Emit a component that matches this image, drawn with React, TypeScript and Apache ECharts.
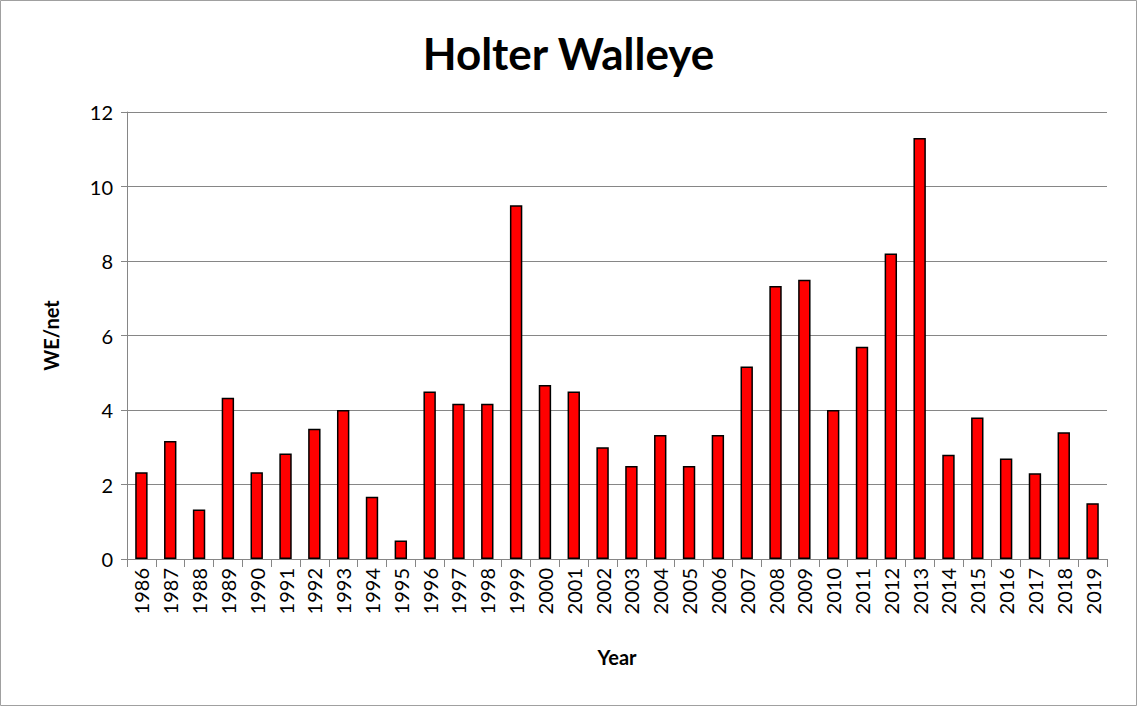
import React, { useEffect, useRef } from "react";
import * as echarts from "echarts";

const years = [
  "1986", "1987", "1988", "1989", "1990", "1991", "1992", "1993", "1994", "1995",
  "1996", "1997", "1998", "1999", "2000", "2001", "2002", "2003", "2004", "2005",
  "2006", "2007", "2008", "2009", "2010", "2011", "2012", "2013", "2014", "2015",
  "2016", "2017", "2018", "2019",
];
const wePerNet = [
  2.33, 3.17, 1.33, 4.33, 2.33, 2.83, 3.5, 4.0, 1.67, 0.5,
  4.5, 4.17, 4.17, 9.5, 4.67, 4.5, 3.0, 2.5, 3.33, 2.5,
  3.33, 5.17, 7.33, 7.5, 4.0, 5.7, 8.2, 11.3, 2.8, 3.8,
  2.7, 2.3, 3.4, 1.5,
];

const FONT = "Lato, 'Open Sans', sans-serif";

export default function App() {
  const ref = useRef<HTMLDivElement>(null);
  useEffect(() => {
    document.body.style.margin = "0";
    if (!ref.current) return;
    const chart = echarts.init(ref.current, undefined, { renderer: "svg" });
    chart.setOption({
      animation: false,
      backgroundColor: "#ffffff",
      textStyle: { fontFamily: FONT },
      title: {
        text: "Holter Walleye",
        left: "center",
        top: 26,
        textStyle: { fontSize: 44, fontWeight: "bold", color: "#000", fontFamily: FONT },
      },
      graphic: [
        {
          type: "rect",
          shape: { x: 0.5, y: 0.5, width: 1136, height: 705 },
          style: { fill: "none", stroke: "#a0a0a0", lineWidth: 1 },
          silent: true,
        },
      ],
      grid: { left: 127, right: 30, top: 112, bottom: 147 },
      xAxis: {
        type: "category",
        data: years,
        name: "Year",
        nameLocation: "middle",
        nameGap: 88,
        nameTextStyle: { fontSize: 20, fontWeight: "bold", color: "#000", fontFamily: FONT },
        axisLine: { show: true, lineStyle: { color: "#868686", width: 1 } },
        axisTick: { show: true, length: 8, lineStyle: { color: "#868686" } },
        axisLabel: { rotate: 90, fontSize: 20, color: "#000", margin: 9, fontFamily: FONT },
      },
      yAxis: {
        type: "value",
        min: 0,
        max: 12,
        interval: 2,
        name: "WE/net",
        nameLocation: "middle",
        nameGap: 66,
        nameRotate: 90,
        nameTextStyle: { fontSize: 20, fontWeight: "bold", color: "#000", fontFamily: FONT },
        axisLine: { show: true, lineStyle: { color: "#868686", width: 1 } },
        axisTick: { show: true, length: 6, lineStyle: { color: "#868686" } },
        axisLabel: { fontSize: 20, color: "#000", margin: 14, fontFamily: FONT },
        splitLine: { show: true, lineStyle: { color: "#868686", width: 1 } },
      },
      series: [
        {
          type: "bar",
          data: wePerNet,
          barWidth: "43%",
          itemStyle: { color: "#ff0000", borderColor: "#000000", borderWidth: 1.5 },
        },
      ],
    });
    return () => chart.dispose();
  }, []);
  return <div ref={ref} style={{ width: 1137, height: 706 }} />;
}
